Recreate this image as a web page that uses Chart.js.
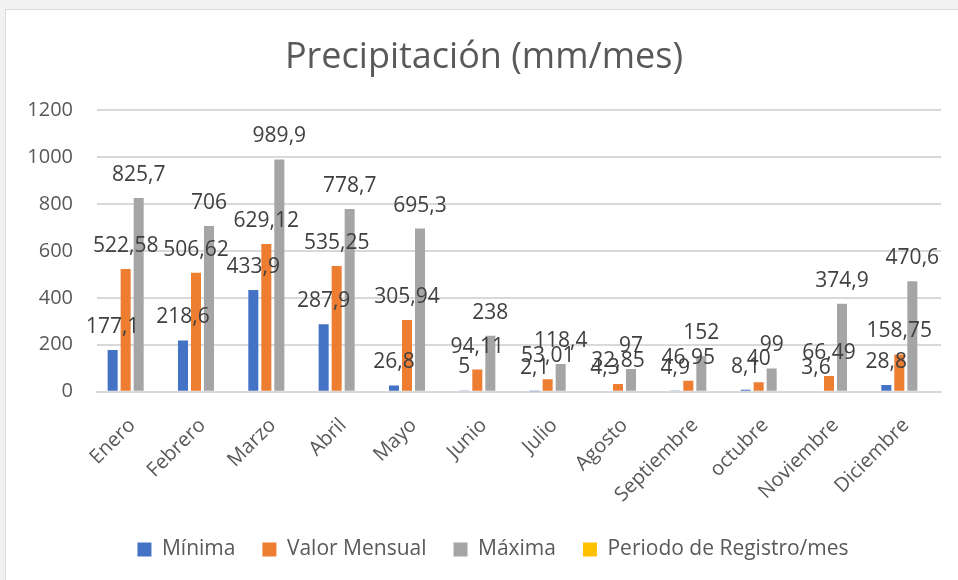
<!DOCTYPE html>
<html>
<head>
<meta charset="utf-8">
<script src="https://cdn.jsdelivr.net/npm/chart.js@4.4.1/dist/chart.umd.min.js"></script>
<style>
    body { margin: 0; background: #f2f2f2; width: 958px; height: 580px; overflow: hidden; }
    #frame { position: absolute; left: 5px; top: 9px; width: 953px; height: 571px; background: #fff; border-left: 1px solid #dcdcdc; border-top: 1px solid #dcdcdc; }
</style>
</head>
<body>
<div id="frame"><canvas id="precipChart" width="953" height="571"></canvas></div>
<script>
// datos del grafico
const meses = ['Enero', 'Febrero', 'Marzo', 'Abril', 'Mayo', 'Junio', 'Julio', 'Agosto', 'Septiembre', 'octubre', 'Noviembre', 'Diciembre'];
const minima = [177.1, 218.6, 433.9, 287.9, 26.8, 5, 2.1, 4.3, 4.9, 8.1, 3.6, 28.8];
const valorMensual = [522.58, 506.62, 629.12, 535.25, 305.94, 94.11, 53.01, 32.85, 46.95, 40, 66.49, 158.75];
const maxima = [825.7, 706, 989.9, 778.7, 695.3, 238, 118.4, 97, 152, 99, 374.9, 470.6];
const periodo = [null, null, null, null, null, null, null, null, null, null, null, null];
const yTicks = [0, 200, 400, 600, 800, 1000, 1200];

const fontFam = "'Open Sans', 'Noto Sans', sans-serif";

// etiquetas encima de cada barra (sin plugin externo)
const barLabels = {
    id: 'barLabels',
    beforeDraw(chart) {
        // la leyenda del original esta un poco a la derecha
        if (!chart.$legendShifted) {
            chart.legend.left += 9;
            chart.legend.right += 9;
            chart.$legendShifted = true;
        }
    },
    afterDatasetsDraw(chart) {
        const ctx = chart.ctx;
        ctx.save();
        ctx.font = '21px ' + fontFam;
        ctx.fillStyle = '#404040';
        ctx.textAlign = 'center';
        ctx.textBaseline = 'alphabetic';
        chart.data.datasets.forEach((ds, i) => {
            const meta = chart.getDatasetMeta(i);
            meta.data.forEach((bar, j) => {
                const v = ds.data[j];
                if (v === null || v === undefined) return;
                ctx.fillText(String(v).replace('.', ','), bar.x, bar.y - 17);
            });
        });
        ctx.restore();
    }
};

const ctx = document.getElementById('precipChart').getContext('2d');
new Chart(ctx, {
    type: 'bar',
    data: {
        labels: meses,
        datasets: [
            { label: 'Mínima', data: minima, backgroundColor: '#4472c4' },
            { label: 'Valor Mensual', data: valorMensual, backgroundColor: '#ed7d31' },
            { label: 'Máxima', data: maxima, backgroundColor: '#a5a5a5' },
            { label: 'Periodo de Registro/mes', data: periodo, backgroundColor: '#ffc000' }
        ]
    },
    options: {
        responsive: false,
        animation: false,
        events: [],
        datasets: {
            bar: { categoryPercentage: 0.74, barPercentage: 0.77 }
        },
        layout: { padding: { left: 21, right: 18, top: 0, bottom: 11 } },
        plugins: {
            title: {
                display: true,
                text: 'Precipitación (mm/mes)',
                color: '#595959',
                font: { family: fontFam, size: 36, weight: 'normal' },
                padding: { top: 26, bottom: 31 }
            },
            legend: {
                position: 'bottom',
                labels: {
                    color: '#595959',
                    font: { family: fontFam, size: 21 },
                    boxWidth: 14,
                    boxHeight: 14,
                    padding: 27
                }
            },
            tooltip: { enabled: false }
        },
        scales: {
            x: {
                afterFit(axis) {
                    // sin margen extra por las etiquetas giradas
                    axis.paddingLeft = 0;
                    axis.paddingRight = 0;
                    axis.height -= 17;
                },
                grid: { display: false, drawTicks: false },
                border: { color: '#d9d9d9', width: 2 },
                ticks: {
                    color: '#595959',
                    font: { family: fontFam, size: 20 },
                    minRotation: 45,
                    maxRotation: 45,
                    padding: 22
                }
            },
            y: {
                min: 0,
                max: 1200,
                afterBuildTicks(axis) {
                    axis.ticks = yTicks.map(v => ({ value: v }));
                },
                afterFit(axis) {
                    axis.width = 70;
                },
                grid: { color: '#d9d9d9', lineWidth: 2, drawTicks: false },
                border: { display: false },
                ticks: {
                    color: '#595959',
                    font: { family: fontFam, size: 20 },
                    padding: 24,
                    callback: v => String(v)
                }
            }
        }
    },
    plugins: [barLabels]
});
</script>
</body>
</html>
